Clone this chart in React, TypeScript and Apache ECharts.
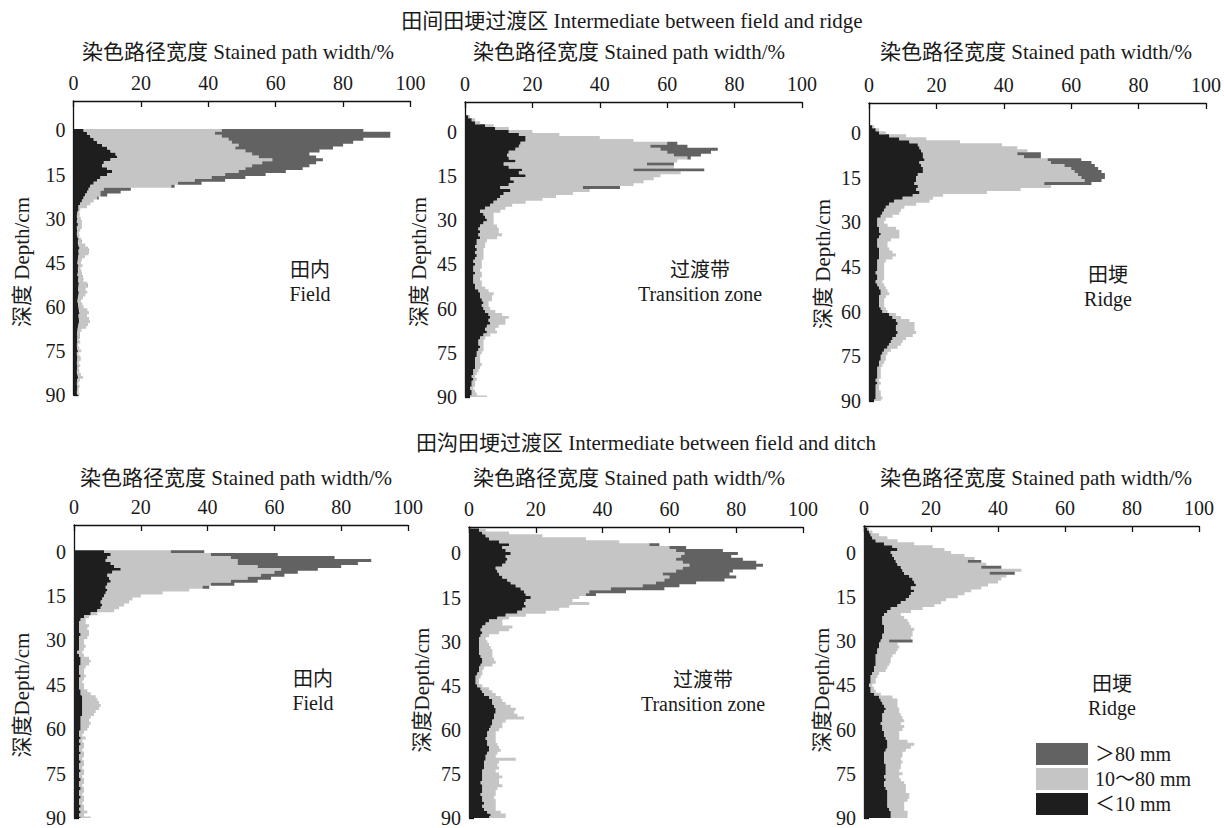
import React, { useEffect, useRef } from "react";
import * as echarts from "echarts";

// ---------- categories / ticks ----------
const DEPTH_TICKS = [0, 15, 30, 45, 60, 75, 90];
const TOP_DEPTHS = Array.from({ length: 101 }, (_, i) => String(i - 10)); // -10 .. 90 cm
const BOTTOM_DEPTHS = Array.from({ length: 100 }, (_, i) => String(i - 9)); // -9 .. 90 cm
const CLASS_NAMES = ["＜10 mm", "10～80 mm", "＞80 mm"];
const LEGEND_ORDER = ["＞80 mm", "10～80 mm", "＜10 mm"];

// ---------- 田间田埂过渡区 : 田内 Field (depth -10..90) ----------
const P1_FINE = [
  0, 0, 0, 0, 0, 0, 0, 0, 0, 0,
  3, 4, 5, 6, 7, 8.5, 10, 11, 12.5, 13,
  11, 9, 8.5, 10, 11.5, 10, 8, 7, 6, 5,
  4.5, 4, 3.5, 3, 2.5, 2, 1.5, 1.5, 1.2, 1,
  1.2, 1, 1.3, 1, 1.2, 1, 1.2, 1.5, 1.3, 1.5,
  1.8, 1.5, 1.6, 1.4, 1.3, 1.2, 1.5, 1.3, 1.4, 1.2,
  1.5, 1.4, 1.6, 1.5, 1.4, 1.6, 1.5, 1.3, 1.2, 1.4,
  1.5, 1.6, 1.8, 1.5, 1.6, 1.7, 1.5, 1.3, 1.2, 1.1,
  1.2, 1.1, 1.2, 1, 1.1, 1.3, 1, 1.2, 1.1, 1,
  1.2, 1.1, 1, 1.2, 1.4, 1.1, 1, 1.2, 1.1, 1,
  1.2,
];
const P1_MEDIUM = [
  0, 0, 0, 0, 0, 0, 0, 0, 0, 0,
  41, 38, 39, 40, 40, 40.5, 38, 40, 40.5, 42,
  48, 47, 44.5, 41, 37.5, 35, 33, 29, 25, 24,
  4.5, 4, 4.5, 4, 3.5, 3, 2.5, 0.5, 0.5, 0.8,
  1, 1.5, 1.2, 1.5, 0.8, 0.6, 0.5, 0.8, 1.2, 2,
  2.5, 3, 2.8, 2, 1.2, 1, 1.2, 0.8, 1, 1.3,
  1.2, 1.5, 2.5, 2.8, 2.2, 2.5, 2, 1.5, 1, 1.2,
  1.5, 2.5, 2.8, 2.5, 3, 3.2, 2.8, 2.5, 1.2, 0.8,
  0.6, 0.5, 0.8, 0.4, 0.6, 1, 0.5, 0.8, 1, 0.6,
  0.8, 0.5, 0.7, 1, 1.4, 0.8, 0.5, 0.6, 0.4, 0.5,
  0.6,
];
const P1_COARSE = [
  0, 0, 0, 0, 0, 0, 0, 0, 0, 0,
  42, 52, 50, 40, 36, 31, 29, 22, 17, 17,
  15, 16, 17, 17, 14, 12, 10, 9, 7, 1,
  8, 6, 2, 0.5, 0, 0, 0, 0, 0, 0,
  0, 0, 0, 0, 0, 0, 0, 0, 0, 0,
  0, 0, 0, 0, 0, 0, 0, 0, 0, 0,
  0, 0, 0, 0, 0, 0, 0, 0, 0, 0,
  0, 0, 0, 0, 0, 0, 0, 0, 0, 0,
  0, 0, 0, 0, 0, 0, 0, 0, 0, 0,
  0, 0, 0, 0, 0, 0, 0, 0, 0, 0,
  0,
];

// ---------- 田间田埂过渡区 : 过渡带 Transition zone ----------
const P2_FINE = [
  0, 0, 0, 0, 0, 1, 2, 3, 6, 9,
  13, 16, 18, 18, 16.5, 16, 15, 13, 12.5, 13,
  15, 11.5, 13, 17, 16, 18, 13.5, 14.5, 13, 10.5,
  13.5, 11.5, 10.5, 9.5, 8.5, 7.5, 6, 4.5, 5.5, 6,
  6.5, 5.5, 4.5, 4, 4.5, 4, 4.5, 3.5, 3.5, 3,
  3.5, 3, 3.5, 3, 2.5, 3, 2.5, 2.5, 3, 2.5,
  2.5, 2.5, 3, 3, 4, 4.5, 4.5, 5, 5.5, 5,
  5.5, 6, 7, 7.5, 7, 7.5, 6.5, 6, 6.5, 5.5,
  4.5, 4, 4, 4.5, 4, 3.5, 3.5, 3, 3, 3,
  3, 2.5, 2.5, 2, 2.5, 2, 2, 1.5, 2, 2,
  1.5,
];
const P2_MEDIUM = [
  0, 0, 0, 0, 0, 0.5, 1, 1.5, 2.5, 4,
  7, 12, 22, 32, 43.5, 39, 43, 47, 49.5, 53,
  48, 42.5, 49, 33, 48, 40, 42.5, 38.5, 37, 24.5,
  23.5, 20.5, 16.5, 13.5, 9.5, 6.5, 6, 6, 3, 2.5,
  2, 3, 5, 6, 5.5, 7, 5, 3, 2.5, 3,
  2, 2.5, 2, 2.5, 2.5, 2, 2.5, 2, 2, 2.5,
  2, 2.5, 2, 3, 3, 4, 3.5, 3, 1.5, 2,
  2, 3, 4, 5.5, 5, 4.5, 3.5, 3, 3, 2,
  1.5, 1.5, 1.5, 1, 1.5, 1.5, 1, 1.5, 1.5, 2,
  1.5, 1.5, 1, 1, 1, 1, 1, 1, 1, 1.5,
  5,
];
const P2_COARSE = [
  0, 0, 0, 0, 0, 0, 0, 0, 0, 0,
  0, 0, 0, 0, 3, 11, 17, 13, 8, 1,
  0, 8, 0, 21, 0, 0, 0, 0, 0, 11,
  0, 0, 0, 0, 0, 0, 0, 0, 0, 0,
  0, 0, 0, 0, 0, 0, 0, 0, 0, 0,
  0, 0, 0, 0, 0, 0, 0, 0, 0, 0,
  0, 0, 0, 0, 0, 0, 0, 0, 0, 0,
  0, 0, 0, 0, 0, 0, 0, 0, 0, 0,
  0, 0, 0, 0, 0, 0, 0, 0, 0, 0,
  0, 0, 0, 0, 0, 0, 0, 0, 0, 0,
  0,
];

// ---------- 田间田埂过渡区 : 田埂 Ridge ----------
const P3_FINE = [
  0, 0, 0, 0, 0, 0, 0, 0, 1, 2,
  3, 6, 9, 12, 14.5, 15, 15.5, 16, 16, 16.5,
  15, 15.5, 16, 16, 14.5, 14, 14, 13.5, 14.5, 14,
  15, 13, 10, 7.5, 6, 5, 4.5, 4, 3.5, 2.5,
  2.5, 2.5, 3, 3, 3.5, 3, 2.5, 2.5, 2.5, 3,
  3, 3, 3, 2.5, 2.5, 2.5, 2.5, 2, 2.5, 2.5,
  2, 2.5, 3, 3.5, 3.5, 3, 3, 3, 3, 3.5,
  4, 6, 7, 8, 8.5, 8, 8, 8.5, 8, 7,
  6.5, 6, 5.5, 4.5, 4, 3.5, 3.5, 3, 3, 2.5,
  2.5, 2.5, 2.5, 2, 2.5, 2, 2, 2, 2, 2,
  1.5,
];
const P3_MEDIUM = [
  0, 0, 0, 0, 0, 0, 0, 0, 0.5, 1,
  2, 5, 8, 15, 25, 29, 31.5, 28, 30, 36.5,
  39, 42.5, 44, 45, 47.5, 49, 50, 38.5, 39.5, 31,
  20, 9, 9, 10.5, 8, 5.5, 5, 5, 3.5, 2.5,
  2, 3, 5, 6, 5.5, 6, 4, 3, 3, 3,
  4, 5, 4, 2.5, 2, 2, 2, 2.5, 2, 2,
  2, 2, 2, 2, 2.5, 2, 1.5, 1.5, 1.5, 1.5,
  1.5, 2, 2.5, 4, 5, 5.5, 5.5, 5.5, 5, 4,
  3.5, 3.5, 3, 2, 1.5, 1.5, 1.5, 1.5, 1, 1,
  1, 1, 1, 1, 1, 1, 1, 1.5, 1.5, 2,
  2,
];
const P3_COARSE = [
  0, 0, 0, 0, 0, 0, 0, 0, 0, 0,
  0, 0, 0, 0, 0, 0, 0, 7, 5, 10,
  12, 9, 8, 8, 8, 7, 5, 14, 0, 0,
  0, 0, 0, 0, 0, 0, 0, 0, 0, 0,
  0, 0, 0, 0, 0, 0, 0, 0, 0, 0,
  0, 0, 0, 0, 0, 0, 0, 0, 0, 0,
  0, 0, 0, 0, 0, 0, 0, 0, 0, 0,
  0, 0, 0, 0, 0, 0, 0, 0, 0, 0,
  0, 0, 0, 0, 0, 0, 0, 0, 0, 0,
  0, 0, 0, 0, 0, 0, 0, 0, 0, 0,
  0,
];

// ---------- 田沟田埂过渡区 : 田内 Field (depth -9..90) ----------
const P4_FINE = [
  0, 0, 0, 0, 0, 0, 0, 0, 0,
  9, 11, 10, 9.5, 11, 12, 14, 11.5, 10, 10.5,
  11, 10, 9.5, 10, 9.5, 9, 8.5, 8, 8.5, 8,
  7, 5, 3, 2, 1.5, 1.5, 1.5, 1.5, 2, 1.5,
  1.5, 1.5, 1.5, 1.5, 1, 1.5, 2, 2, 2, 1.5,
  1.5, 1.5, 2, 1.5, 1.5, 1.5, 1.5, 2, 2, 2.5,
  2.5, 2.5, 2.5, 2.5, 2.5, 2.5, 2, 2, 2, 2,
  2, 1.5, 1.5, 2, 1.5, 2, 1.5, 1.5, 2, 1.5,
  1.5, 2, 1.5, 1.5, 2, 1.5, 1.5, 2, 1.5, 1.5,
  2, 1.5, 1.5, 2, 1.5, 1.5, 2, 1.5, 2, 1.5,
  2,
];
const P4_MEDIUM = [
  0, 0, 0, 0, 0, 0, 0, 0, 0,
  20, 30, 37, 39.5, 38, 43, 48, 48.5, 46, 41.5,
  36, 31, 29, 24.5, 17, 11, 9, 8.5, 6.5, 5.5,
  5, 2, 1.5, 1.5, 2, 3, 2.5, 3, 2.5, 2.5,
  1.5, 1.5, 2, 1.5, 1.5, 1.5, 2.5, 3, 2.5, 2,
  1.5, 1.5, 1.5, 1.5, 1, 1.5, 1.5, 2, 3, 4,
  4.5, 5, 5.5, 5, 4, 3.5, 3, 2.5, 3, 2.5,
  2, 1.5, 1, 1.5, 1, 1, 1.5, 1, 1, 1.5,
  1, 1, 1.5, 1, 1, 1.5, 1, 1, 1.5, 1,
  1, 1.5, 1, 1, 1.5, 1, 1, 1.5, 2, 1.5,
  3,
];
const P4_COARSE = [
  0, 0, 0, 0, 0, 0, 0, 0, 0,
  10, 20, 31, 40, 36, 25, 11, 7, 7, 7,
  8, 7, 2, 0, 0, 0, 0, 0, 0, 0,
  0, 0, 0, 0, 0, 0, 0, 0, 0, 0,
  0, 0, 0, 0, 0, 0, 0, 0, 0, 0,
  0, 0, 0, 0, 0, 0, 0, 0, 0, 0,
  0, 0, 0, 0, 0, 0, 0, 0, 0, 0,
  0, 0, 0, 0, 0, 0, 0, 0, 0, 0,
  0, 0, 0, 0, 0, 0, 0, 0, 0, 0,
  0, 0, 0, 0, 0, 0, 0, 0, 0, 0,
  0,
];

// ---------- 田沟田埂过渡区 : 过渡带 Transition zone ----------
const P5_FINE = [
  0, 3, 4, 5, 6, 9, 12, 10, 11,
  12.5, 11, 11.5, 11, 10, 8, 8.5, 9, 10, 11.5,
  12.5, 14, 15.5, 16.5, 17, 18.5, 17, 16.5, 17, 16,
  14.5, 11, 8.5, 6, 5, 4, 3.5, 4, 3.5, 3,
  3, 3, 3, 3, 3, 3.5, 4, 4, 3.5, 3,
  3, 2.5, 2, 2, 2, 2.5, 3.5, 4, 4.5, 6,
  7, 7, 7.5, 8, 8, 7.5, 7.5, 7, 7, 6.5,
  6, 5.5, 5.5, 5, 5.5, 5.5, 6, 6, 5.5, 5,
  5, 4.5, 4.5, 4.5, 4, 4, 4, 4, 3.5, 4,
  4, 4, 3.5, 4, 4, 4.5, 4, 4.5, 5.5, 6.5,
  6,
];
const P5_MEDIUM = [
  0, 2, 8, 17, 29, 36, 42, 50, 51,
  52, 52.5, 50.5, 53, 56, 56, 53.5, 49, 50, 47,
  43.5, 38, 27, 19.5, 18, 14.5, 14, 19.5, 13, 11,
  8.5, 6, 3.5, 4, 5, 9, 8.5, 5, 2.5, 2,
  2.5, 3, 3.5, 4, 4, 3.5, 3.5, 4, 3.5, 1.5,
  1, 1.5, 1.5, 1, 1, 1.5, 2.5, 3, 3.5, 3.5,
  3, 4, 5, 6, 5.5, 7, 9, 4, 3, 3.5,
  3, 2.5, 2.5, 3, 2.5, 3, 3, 3.5, 3, 3,
  9, 4.5, 4, 4.5, 4, 5, 6, 5, 5.5, 6,
  4.5, 4, 4.5, 3.5, 4, 3.5, 4, 3.5, 4, 4.5,
  5,
];
const P5_COARSE = [
  0, 0, 0, 0, 0, 0, 3, 5, 14,
  16, 15, 20, 22, 22, 22, 17, 20, 20, 18,
  12, 11, 16, 11, 3, 0, 0, 0, 0, 0,
  0, 0, 0, 0, 0, 0, 0, 0, 0, 0,
  0, 0, 0, 0, 0, 0, 0, 0, 0, 0,
  0, 0, 0, 0, 0, 0, 0, 0, 0, 0,
  0, 0, 0, 0, 0, 0, 0, 0, 0, 0,
  0, 0, 0, 0, 0, 0, 0, 0, 0, 0,
  0, 0, 0, 0, 0, 0, 0, 0, 0, 0,
  0, 0, 0, 0, 0, 0, 0, 0, 0, 0,
  0,
];

// ---------- 田沟田埂过渡区 : 田埂 Ridge ----------
const P6_FINE = [
  0, 1, 1.5, 2, 2.5, 3.5, 6, 8.5, 10,
  8, 8.5, 9, 9.5, 10, 11, 11.5, 12, 13.5, 14.5,
  15, 15.5, 14, 15, 14, 13.5, 12.5, 11, 10, 8,
  7, 6, 5.5, 5.5, 5.5, 6, 6, 6, 5.5, 5.5,
  5, 4.5, 4.5, 4, 4, 3.5, 3.5, 3.5, 3.5, 3,
  3, 2.5, 2, 2, 2, 1.5, 2, 2, 3, 4.5,
  5, 5.5, 6, 6.5, 6, 5.5, 5.5, 5.5, 5, 5.5,
  5.5, 6, 6, 6.5, 7, 7, 7, 6.5, 6, 6,
  6, 6, 6.5, 6.5, 6.5, 6.5, 6, 6.5, 6, 6,
  6.5, 7, 7, 7, 7, 7, 7, 7.5, 8, 8,
  8,
];
const P6_MEDIUM = [
  0, 0.5, 1, 2.5, 4.5, 6.5, 9, 12, 14,
  18, 21.5, 24, 21.5, 26.5, 24, 35.5, 25.5, 29, 26.5,
  25, 21.5, 21, 17, 16, 14.5, 12, 12, 11, 9.5,
  7, 5, 6.5, 7.5, 8, 8, 9, 8.5, 9, 8.5,
  2.5, 5.5, 6, 6, 5.5, 5, 4.5, 4.5, 4, 4,
  3.5, 2, 2, 1.5, 1.5, 1, 1, 1.5, 2, 4,
  5, 4.5, 4, 4, 4.5, 5.5, 6, 6.5, 6, 6.5,
  6, 4.5, 4.5, 4, 6, 8, 7, 6, 5.5, 5.5,
  5, 5.5, 4.5, 4.5, 4, 5, 4.5, 4.5, 6, 6.5,
  6, 5.5, 6.5, 6.5, 6, 5, 5, 4.5, 5, 5,
  5,
];
const P6_COARSE = [
  0, 0, 0, 0, 0, 0, 0, 0, 0,
  0, 0, 0, 4, 0, 6, 0, 7.5, 0, 0,
  0, 0, 0, 0, 0, 0, 0, 0, 0, 0,
  0, 0, 0, 0, 0, 0, 0, 0, 0, 0,
  7, 0, 0, 0, 0, 0, 0, 0, 0, 0,
  0, 0, 0, 0, 0, 0, 0, 0, 0, 0,
  0, 0, 0, 0, 0, 0, 0, 0, 0, 0,
  0, 0, 0, 0, 0, 0, 0, 0, 0, 0,
  0, 0, 0, 0, 0, 0, 0, 0, 0, 0,
  0, 0, 0, 0, 0, 0, 0, 0, 0, 0,
  0,
];

// ---------- styles / layout ----------
const FONT = "'Liberation Serif', 'Times New Roman', 'Noto Sans CJK SC', serif";
const INK = "#1a1a1a";
const CLASS_COLORS = ["#1e1e1e", "#c5c5c5", "#626262"];

const PANELS = [
  { fine: P1_FINE, medium: P1_MEDIUM, coarse: P1_COARSE, depths: TOP_DEPTHS, box: { left: 73.5, top: 101, width: 337, height: 294 } },
  { fine: P2_FINE, medium: P2_MEDIUM, coarse: P2_COARSE, depths: TOP_DEPTHS, box: { left: 465, top: 102, width: 337, height: 295 } },
  { fine: P3_FINE, medium: P3_MEDIUM, coarse: P3_COARSE, depths: TOP_DEPTHS, box: { left: 869, top: 103, width: 337, height: 298 } },
  { fine: P4_FINE, medium: P4_MEDIUM, coarse: P4_COARSE, depths: BOTTOM_DEPTHS, box: { left: 74, top: 525, width: 334, height: 295 } },
  { fine: P5_FINE, medium: P5_MEDIUM, coarse: P5_COARSE, depths: BOTTOM_DEPTHS, box: { left: 469, top: 527, width: 334, height: 295 } },
  { fine: P6_FINE, medium: P6_MEDIUM, coarse: P6_COARSE, depths: BOTTOM_DEPTHS, box: { left: 864, top: 526, width: 335, height: 296 } },
];

const LABELS = [
  { text: "田间田埂过渡区 Intermediate between field and ridge", x: 632, y: 21, rot: 0, fs: 21 },
  { text: "田沟田埂过渡区 Intermediate between field and ditch", x: 646, y: 443, rot: 0, fs: 21 },
  { text: "染色路径宽度 Stained path width/%", x: 238, y: 52, rot: 0, fs: 21 },
  { text: "染色路径宽度 Stained path width/%", x: 629, y: 52, rot: 0, fs: 21 },
  { text: "染色路径宽度 Stained path width/%", x: 1036, y: 52, rot: 0, fs: 21 },
  { text: "染色路径宽度 Stained path width/%", x: 236, y: 478, rot: 0, fs: 21 },
  { text: "染色路径宽度 Stained path width/%", x: 629, y: 478, rot: 0, fs: 21 },
  { text: "染色路径宽度 Stained path width/%", x: 1036, y: 478, rot: 0, fs: 21 },
  { text: "深度 Depth/cm", x: 22, y: 262, rot: 1, fs: 21 },
  { text: "深度 Depth/cm", x: 419, y: 262, rot: 1, fs: 21 },
  { text: "深度 Depth/cm", x: 823, y: 264, rot: 1, fs: 21 },
  { text: "深度Depth/cm", x: 22, y: 695, rot: 1, fs: 21 },
  { text: "深度Depth/cm", x: 422, y: 690, rot: 1, fs: 21 },
  { text: "深度Depth/cm", x: 822, y: 690, rot: 1, fs: 21 },
  // panel names: Chinese line above, English line below
  { text: "田内", x: 310, y: 270, rot: 0, fs: 20 },
  { text: "Field", x: 310, y: 294, rot: 0, fs: 20 },
  { text: "过渡带", x: 700, y: 270, rot: 0, fs: 20 },
  { text: "Transition zone", x: 700, y: 294, rot: 0, fs: 20 },
  { text: "田埂", x: 1108, y: 275, rot: 0, fs: 20 },
  { text: "Ridge", x: 1108, y: 299, rot: 0, fs: 20 },
  { text: "田内", x: 313, y: 679, rot: 0, fs: 20 },
  { text: "Field", x: 313, y: 703, rot: 0, fs: 20 },
  { text: "过渡带", x: 703, y: 680, rot: 0, fs: 20 },
  { text: "Transition zone", x: 703, y: 704, rot: 0, fs: 20 },
  { text: "田埂", x: 1112, y: 684, rot: 0, fs: 20 },
  { text: "Ridge", x: 1112, y: 708, rot: 0, fs: 20 },
];

export default function App() {
  const ref = useRef<HTMLDivElement>(null);

  useEffect(() => {
    if (!ref.current) return;
    const chart = echarts.init(ref.current, undefined, { renderer: "svg" });
    const axisLineStyle = { color: "#111", width: 1.3 };

    const option: any = {
      animation: false,
      backgroundColor: "#ffffff",
      textStyle: { fontFamily: FONT },
      grid: PANELS.map((p) => ({ ...p.box, containLabel: false })),
      xAxis: PANELS.map((_, i) => ({
        type: "value",
        gridIndex: i,
        position: "top",
        min: 0,
        max: 100,
        interval: 20,
        axisLine: { show: true, onZero: false, lineStyle: axisLineStyle },
        axisTick: { show: true, inside: true, length: 6, lineStyle: axisLineStyle },
        axisLabel: { fontSize: 20, margin: 8, color: INK, fontFamily: FONT },
        splitLine: { show: false },
      })),
      yAxis: PANELS.map((p, i) => ({
        type: "category",
        gridIndex: i,
        inverse: true,
        boundaryGap: false,
        data: p.depths,
        axisLine: { show: true, onZero: false, lineStyle: axisLineStyle },
        axisTick: {
          show: true,
          inside: true,
          length: 5,
          lineStyle: axisLineStyle,
          interval: (_idx: number, val: string) => Number(val) === 90,
        },
        axisLabel: {
          interval: (_idx: number, val: string) => DEPTH_TICKS.includes(Number(val)),
          fontSize: 20,
          margin: 8,
          color: INK,
          fontFamily: FONT,
        },
        splitLine: { show: false },
      })),
      legend: {
        orient: "vertical",
        left: 1036,
        top: 743,
        padding: 0,
        itemWidth: 52,
        itemHeight: 22,
        itemGap: 3,
        icon: "rect",
        selectedMode: false,
        textStyle: { fontSize: 20, color: INK, fontFamily: FONT, padding: [0, 0, 0, 2] },
        data: LEGEND_ORDER.map((n) => ({
          name: n,
          itemStyle: { color: CLASS_COLORS[CLASS_NAMES.indexOf(n)] },
        })),
      },
      series: PANELS.flatMap((p, i) =>
        [p.fine, p.medium, p.coarse].map((vals, k) => ({
          type: "line",
          name: CLASS_NAMES[k],
          xAxisIndex: i,
          yAxisIndex: i,
          stack: "panel" + i,
          data: vals,
          step: "middle",
          symbol: "none",
          showSymbol: false,
          silent: true,
          color: CLASS_COLORS[k],
          itemStyle: { color: CLASS_COLORS[k] },
          lineStyle: { width: 0, opacity: 0 },
          areaStyle: { color: CLASS_COLORS[k], opacity: 1 },
        }))
      ),
      graphic: LABELS.map((l) => ({
        type: "text",
        x: l.x,
        y: l.y,
        rotation: l.rot ? Math.PI / 2 : 0,
        silent: true,
        style: {
          text: l.text,
          fill: INK,
          fontSize: l.fs,
          fontFamily: FONT,
          textAlign: "center",
          textVerticalAlign: "middle",
          align: "center",
          verticalAlign: "middle",
        },
      })),
    };

    chart.setOption(option);
    return () => chart.dispose();
  }, []);

  return (
    <div
      ref={ref}
      style={{ position: "absolute", left: 0, top: 0, width: 1224, height: 828, background: "#fff" }}
    />
  );
}
